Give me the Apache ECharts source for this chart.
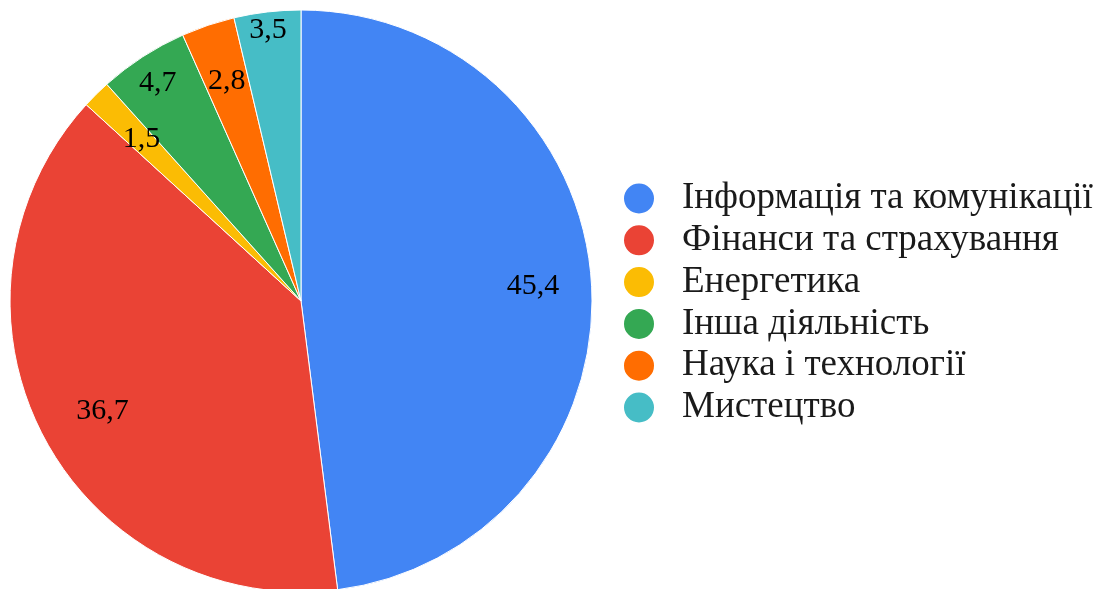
<!DOCTYPE html>
<html>
<head>
<meta charset="utf-8">
<script src="https://cdn.jsdelivr.net/npm/echarts@6/dist/echarts.min.js"></script>
<style>
  html, body { margin: 0; padding: 0; background: #fff; }
  #chart { width: 1107px; height: 589px; }
</style>
</head>
<body>
<div id="chart"></div>
<script>
const categories = [
  "Інформація та комунікації",
  "Фінанси та страхування",
  "Енергетика",
  "Інша діяльність",
  "Наука і технології",
  "Мистецтво"
];
const values = [45.4, 36.7, 1.5, 4.7, 2.8, 3.5];
const colors = ["#4285F4", "#EA4335", "#FBBC04", "#34A853", "#FF6D01", "#46BDC6"];

const font = "'Liberation Serif', 'Times New Roman', serif";
const chart = echarts.init(document.getElementById("chart"));

// small nudges so the narrow-slice labels sit where the original puts them
const labelNudge = {
  "Фінанси та страхування": [8, 3],
  "Енергетика": [4, 3],
  "Інша діяльність": [-17, -23],
  "Мистецтво": [-6, -40]
};

const pieData = categories.map((name, i) => ({ name, value: values[i] }));
const labelData = categories.map((name, i) => ({
  name,
  value: values[i],
  label: labelNudge[name] ? { offset: labelNudge[name] } : undefined
}));

chart.setOption({
  color: colors,
  animation: false,
  legend: {
    orient: "vertical",
    left: 617,
    top: 175,
    icon: "circle",
    itemWidth: 32,
    itemHeight: 32,
    itemGap: 4.8,
    data: categories,
    textStyle: {
      fontFamily: font,
      fontSize: 37,
      lineHeight: 37,
      color: "#1a1a1a",
      padding: [0, 0, 0, 22]
    }
  },
  series: [
    {
      type: "pie",
      center: [301, 301],
      radius: 291,
      startAngle: 90,
      clockwise: true,
      legendHoverLink: false,
      itemStyle: { borderColor: "#fff", borderWidth: 1 },
      label: { show: false },
      labelLine: { show: false },
      emphasis: { disabled: true },
      data: pieData
    },
    {
      // transparent ring used only to place the labels at ~0.79 of radius
      type: "pie",
      center: [301, 301],
      radius: [168, 291],
      startAngle: 90,
      clockwise: true,
      silent: true,
      legendHoverLink: false,
      itemStyle: { color: "rgba(0,0,0,0)" },
      label: {
        show: true,
        position: "inside",
        fontFamily: font,
        fontSize: 30,
        color: "#000",
        formatter: p => String(p.value).replace(".", ",")
      },
      labelLine: { show: false },
      emphasis: { disabled: true },
      data: labelData
    }
  ]
});
</script>
</body>
</html>
